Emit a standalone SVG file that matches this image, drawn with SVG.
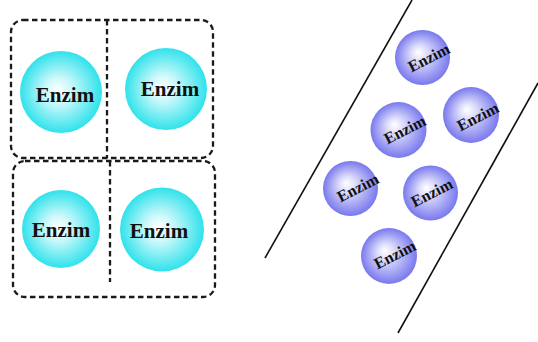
<svg xmlns="http://www.w3.org/2000/svg" width="538" height="342" viewBox="0 0 538 342">
<defs>
<radialGradient id="cyan" cx="0.5" cy="0.5" r="0.5" fx="0.45" fy="0.48">
<stop offset="0" stop-color="#ffffff"/>
<stop offset="0.3" stop-color="#d0f9fb"/>
<stop offset="1" stop-color="#30e2eb"/>
</radialGradient>
<radialGradient id="purple" cx="0.5" cy="0.5" r="0.5" fx="0.42" fy="0.4">
<stop offset="0" stop-color="#ffffff"/>
<stop offset="0.3" stop-color="#dcdcfb"/>
<stop offset="1" stop-color="#7878ee"/>
</radialGradient>
</defs>
<style>
.box{fill:none;stroke:#1a1a1a;stroke-width:2.3;stroke-dasharray:5.5 3.5}
.div{fill:none;stroke:#1a1a1a;stroke-width:2.3;stroke-dasharray:5.5 3.5}
.big{fill:url(#cyan)}
.small{fill:url(#purple)}
.tb{font-family:"Liberation Serif",serif;font-weight:bold;font-size:21px;fill:#111;text-anchor:middle}
.ts{font-family:"Liberation Serif",serif;font-weight:bold;font-size:16px;fill:#111;text-anchor:middle}
.line{stroke:#111;stroke-width:1.6;fill:none}
</style>
<rect width="538" height="342" fill="#ffffff"/>
<g id="box-top">
<rect class="box" x="11" y="20" width="202" height="138" rx="12"/>
<line class="div" x1="107" y1="20" x2="107" y2="158"/>
</g>
<g id="box-bottom">
<rect class="box" x="13" y="161" width="202" height="136" rx="12"/>
<line class="div" x1="110" y1="161" x2="110" y2="282"/>
</g>
<g id="enzim-tl"><circle class="big" cx="61" cy="92" r="41"/><text class="tb" x="65" y="102">Enzim</text></g>
<g id="enzim-tr"><circle class="big" cx="166" cy="89" r="41"/><text class="tb" x="170" y="96">Enzim</text></g>
<g id="enzim-bl"><circle class="big" cx="61" cy="229" r="39"/><text class="tb" x="61" y="237">Enzim</text></g>
<g id="enzim-br"><circle class="big" cx="162" cy="229.5" r="42"/><text class="tb" x="159" y="238">Enzim</text></g>
<g id="channel">
<line class="line" x1="265" y1="258" x2="412" y2="0"/>
<line class="line" x1="398" y1="333" x2="538" y2="83"/>
</g>
<g id="e1"><circle class="small" cx="422.5" cy="57.5" r="27.5"/><text class="ts" transform="translate(429 58) rotate(-27)" y="5">Enzim</text></g>
<g id="e2"><circle class="small" cx="471" cy="115" r="28"/><text class="ts" transform="translate(478 117) rotate(-27)" y="5">Enzim</text></g>
<g id="e3"><circle class="small" cx="398.5" cy="130" r="28"/><text class="ts" transform="translate(405 130) rotate(-27)" y="5">Enzim</text></g>
<g id="e4"><circle class="small" cx="350.5" cy="188.5" r="27.5"/><text class="ts" transform="translate(358 188) rotate(-27)" y="5">Enzim</text></g>
<g id="e5"><circle class="small" cx="430.5" cy="193" r="27.5"/><text class="ts" transform="translate(432 193) rotate(-27)" y="5">Enzim</text></g>
<g id="e6"><circle class="small" cx="389" cy="256" r="28"/><text class="ts" transform="translate(395 255) rotate(-27)" y="5">Enzim</text></g>
</svg>
